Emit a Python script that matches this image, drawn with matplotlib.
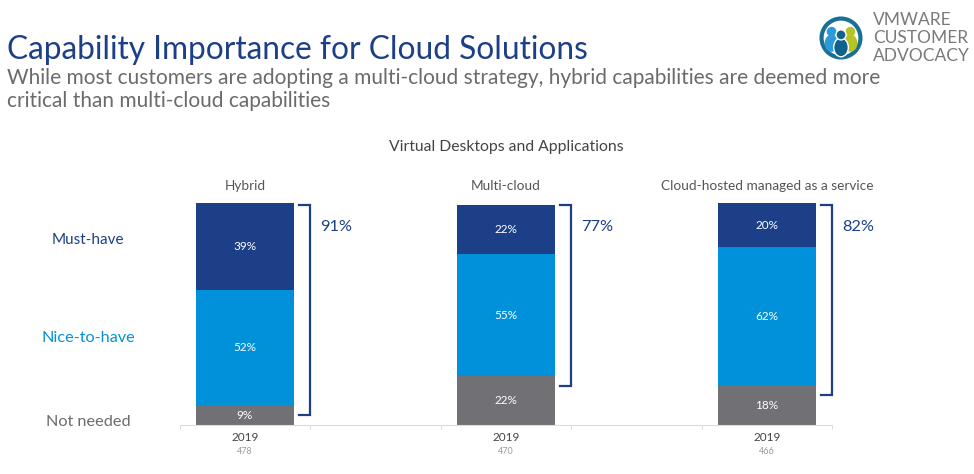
import matplotlib
matplotlib.use("Agg")
import matplotlib.pyplot as plt
from matplotlib.patches import Circle, Ellipse

plt.rcParams['font.family'] = ['Lato', 'DejaVu Sans']

# data
groups = ['Hybrid', 'Multi-cloud', 'Cloud-hosted managed as a service']
years = ['2019', '2019', '2019']
n_resp = ['478', '470', '466']
not_needed = [9, 22, 18]
nice_to_have = [52, 55, 62]
must_have = [39, 22, 20]
levels = ['Must-have', 'Nice-to-have', 'Not needed']

NAVY = '#1c3f87'
BLUE = '#0091da'
GREY = '#717074'
TXT = '#6b6b6b'

W, H = 974, 474
fig = plt.figure(figsize=(W / 100, H / 100), dpi=100)


def fx(px):
    return px / W


def fy(py):
    return 1 - py / H


# main axes: 100% bar spans pixel rows 203..425, categories every 261 px
ax = fig.add_axes([fx(114.5), fy(425), fx(783), 222 / H])
ax.set_xlim(-0.5, 2.5)
ax.set_ylim(0, 100)

x = list(range(len(groups)))
bw = 0.375
ax.bar(x, not_needed, bw, color=GREY)
ax.bar(x, nice_to_have, bw, bottom=not_needed, color=BLUE)
bot2 = [a + b for a, b in zip(not_needed, nice_to_have)]
ax.bar(x, must_have, bw, bottom=bot2, color=NAVY)

for i in x:
    segs = [(not_needed[i], 0), (nice_to_have[i], not_needed[i]), (must_have[i], bot2[i])]
    for v, b in segs:
        ax.text(i, b + v / 2, f'{v}%', color='white', fontsize=8.5,
                ha='center', va='center')
    ax.text(i, 107.5, groups[i], color='#555555', fontsize=9.8, ha='center', va='center')
    ax.text(i, -5.6, years[i], color='#444444', fontsize=8.5, ha='center', va='center')
    ax.text(i, -12, n_resp[i], color='#9a9a9a', fontsize=6.5, ha='center', va='center')

    # bracket for must-have + nice-to-have
    top = 99
    bottom = not_needed[i] - 4.5
    xs = [i + 0.205, i + 0.25, i + 0.25, i + 0.205]
    ys = [top, top, bottom, bottom]
    ax.plot(xs, ys, color=NAVY, lw=1.6, clip_on=False, solid_joinstyle='miter')
    total = must_have[i] + nice_to_have[i]
    ax.text(i + 0.288, 89, f'{total}%', color=NAVY, fontsize=11.8, ha='left', va='center')

for s in ['top', 'right', 'left']:
    ax.spines[s].set_visible(False)
ax.spines['bottom'].set_bounds(-0.25, 2.25)
ax.spines['bottom'].set_color('#dddddd')
ax.set_xticks([c + d for c in x for d in (-0.25, 0.25)])
ax.set_xticklabels([])
ax.tick_params(axis='x', length=3, color='#dddddd')
ax.set_yticks([])

# row labels on the left
fig.text(fx(88), fy(240), levels[0], color=NAVY, fontsize=11, ha='center', va='center')
fig.text(fx(88), fy(338), levels[1], color=BLUE, fontsize=11.7, ha='center', va='center')
fig.text(fx(88), fy(422), levels[2], color=TXT, fontsize=11.7, ha='center', va='center')

# headings
fig.text(fx(7), fy(50), 'Capability Importance for Cloud Solutions', color=NAVY,
         fontsize=22.8, ha='left', va='center')
fig.text(fx(7), fy(78), 'While most customers are adopting a multi-cloud strategy, hybrid capabilities are deemed more',
         color=TXT, fontsize=15, ha='left', va='center')
fig.text(fx(7), fy(101), 'critical than multi-cloud capabilities',
         color=TXT, fontsize=15, ha='left', va='center')
fig.text(fx(506), fy(147), 'Virtual Desktops and Applications', color='#444444',
         fontsize=11.3, ha='center', va='center')

# logo
lg = fig.add_axes([fx(818), fy(61), fx(46), 46 / H])
lg.set_xlim(-1.1, 1.1)
lg.set_ylim(-1.1, 1.1)
lg.set_aspect('equal')
lg.axis('off')
lg.add_patch(Circle((0, 0), 0.93, fill=False, ec='#1a6f95', lw=3))
lg.add_patch(Ellipse((-0.45, -0.25), 0.6, 0.75, color='#2a9bd6'))
lg.add_patch(Circle((-0.45, 0.3), 0.2, color='#2a9bd6'))
lg.add_patch(Ellipse((0.45, -0.25), 0.6, 0.75, color='#b5c525'))
lg.add_patch(Circle((0.45, 0.3), 0.2, color='#b5c525'))
lg.add_patch(Ellipse((0, -0.45), 0.7, 0.9, color='#0f628e', ec='white', lw=1))
lg.add_patch(Circle((0, 0.15), 0.24, color='#0f628e', ec='white', lw=1))
for k, word in enumerate(['VMWARE', 'CUSTOMER', 'ADVOCACY']):
    fig.text(fx(873), fy(20 + k * 18), word, color='#7a7a7a', fontsize=12.5,
             ha='left', va='center')

fig.savefig('out.png', dpi=100)
